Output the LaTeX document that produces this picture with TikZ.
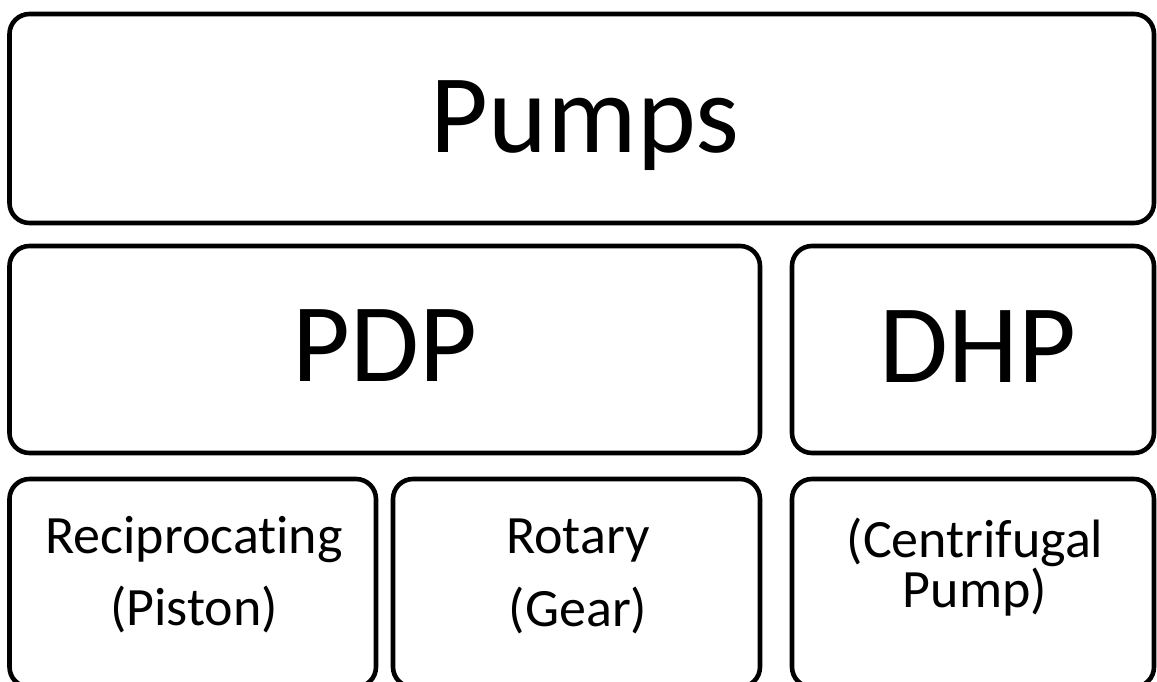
\documentclass[tikz,border=0pt]{standalone}
\usepackage{fontspec}
\setmainfont{Carlito}[Ligatures=NoCommon]
\begin{document}
\begin{tikzpicture}[x=1pt,y=-1pt,
  box/.style={draw=black, line width=4.6pt, rounded corners=20pt,
    inner sep=0pt, outer sep=0pt, anchor=north west},
  bigtext/.style={anchor=base, inner sep=0pt, font=\fontsize{112}{112}\selectfont},
  smalltext/.style={anchor=base, inner sep=0pt, align=center}]
  \useasboundingbox (0,0) rectangle (1157,681);
  \begin{scope}
    \clip (0,0) rectangle (1157,681);
    % top level
    \node[box, minimum width=1144.5pt, minimum height=209pt] (pumps) at (9.5,14) {};
    % second level
    \node[box, minimum width=750.5pt, minimum height=207pt] (pdp) at (9.5,246) {};
    \node[box, minimum width=362pt, minimum height=207pt] (dhp) at (792,246) {};
    % third level
    \node[box, minimum width=366.5pt, minimum height=208pt] (recip) at (9.5,479) {};
    \node[box, minimum width=367pt, minimum height=208pt] (rotary) at (393,479) {};
    \node[box, minimum width=362pt, minimum height=208pt] (centri) at (792,479) {};
  \end{scope}
  % labels (base anchor = baseline of the last line)
  \node[bigtext] (tpumps) at (585,152) {Pumps};
  \node[bigtext] (tpdp) at (385,381) {PDP};
  \node[bigtext] (tdhp) at (978,382) {DHP};
  \node[smalltext, font=\fontsize{54}{72}\selectfont] (trecip) at (194,625) {Reciprocating\\(Piston)};
  \node[smalltext, font=\fontsize{54}{73}\selectfont] (trotary) at (578,626) {Rotary\\(Gear)};
  \node[smalltext, font=\fontsize{54}{44}\selectfont] (tcentri) at (975,607) {(Centrifugal\\Pump)};
\end{tikzpicture}
\end{document}
